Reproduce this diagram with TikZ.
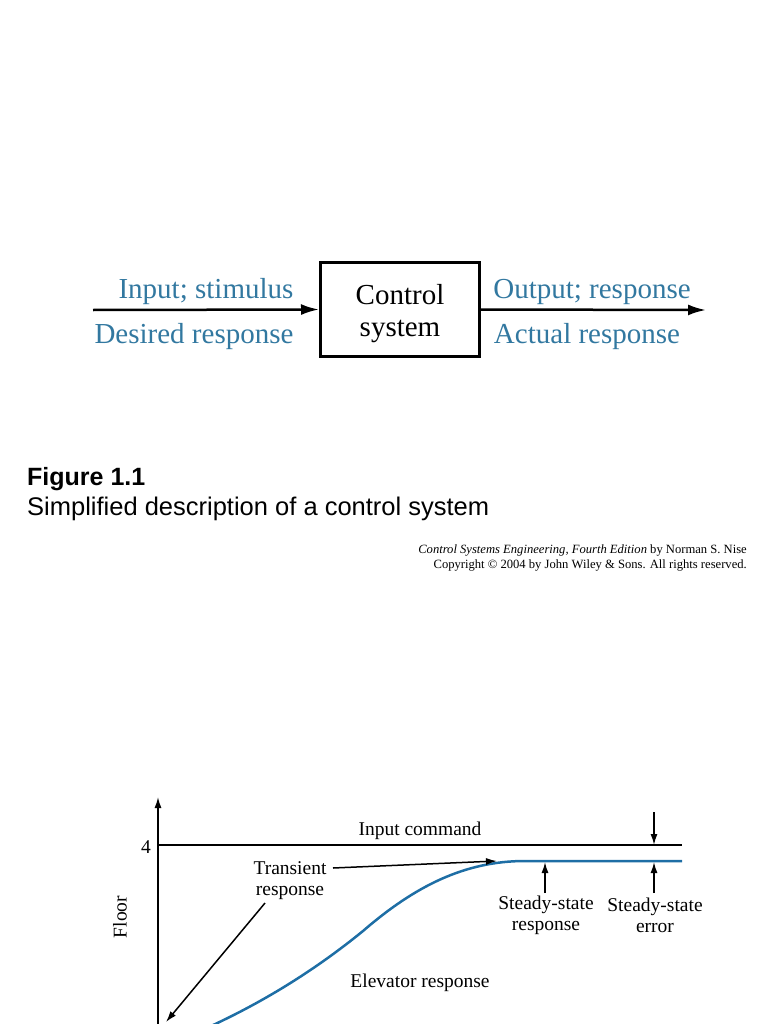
\documentclass[tikz,border=0pt]{standalone}
\usepackage{fontspec}
\setmainfont{Liberation Serif}
\newfontfamily\arialfont{Liberation Sans}
\usetikzlibrary{arrows.meta}
\definecolor{txtblue}{RGB}{50,120,160}
\definecolor{curveblue}{RGB}{30,110,165}
\tikzset{
  biglbl/.style={font=\fontsize{29}{32}\selectfont, inner sep=0pt},
  bluelbl/.style={biglbl, text=txtblue},
  sysbox/.style={draw, line width=3pt, minimum width=159pt, minimum height=94pt, inner sep=0pt},
  bigarrow/.style={line width=2.5pt, -{Latex[length=18pt,width=11pt]}},
  smalllbl/.style={font=\fontsize{19.5}{21}\selectfont, inner sep=0pt, align=center},
  thinline/.style={line width=1.5pt},
  smallarrow/.style={line width=1.5pt, -{Latex[length=11pt,width=7pt]}},
}
\begin{document}
\begin{tikzpicture}[x=1pt,y=-1pt]
\useasboundingbox (0,0) rectangle (768,1024);

% ---- Figure 1.1 block diagram ----
\node[sysbox] (sys) at (400,309.5) {};
\node[biglbl, align=center] (systxt) at (400,313.5) {Control\\system};
\coordinate (inS) at (93,310);
\coordinate (outE) at (706,310);
\draw[bigarrow] (inS) -- (sys.west);
\draw[bigarrow] (sys.east) -- (outE);
\node[bluelbl] (inlbl) at (206,291.5) {Input; stimulus};
\node[bluelbl] (deslbl) at (194,336.5) {Desired response};
\node[bluelbl] (outlbl) at (592,291.5) {Output; response};
\node[bluelbl] (actlbl) at (587,336.5) {Actual response};

% ---- caption ----
\node[anchor=base west, inner sep=0pt, font=\arialfont\bfseries\fontsize{25}{30}\selectfont] (fig) at (27,485) {Figure 1.1};
\node[anchor=base west, inner sep=0pt, font=\arialfont\fontsize{25.5}{30}\selectfont] (cap) at (27,515) {Simplified description of a control system};
\node[anchor=base east, inner sep=0pt, font=\fontsize{12.6}{14}\selectfont] (cr1) at (747,553) {\textit{Control Systems Engineering, Fourth Edition} by Norman S. Nise};
\node[anchor=base east, inner sep=0pt, font=\fontsize{12.6}{14}\selectfont] (cr2) at (747,568) {Copyright \textcopyright{} 2004 by John Wiley \& Sons. All rights reserved.};

% ---- Elevator response plot ----
\coordinate (ax0) at (158,1030);
\coordinate (axtop) at (158,797);
\draw[smallarrow] (ax0) -- (axtop);
\coordinate (cmd0) at (158,845);
\coordinate (cmd1) at (682,845);
\draw[thinline] (cmd0) -- (cmd1);
\node[smalllbl, anchor=east] (four) at (151,847) {4};
\node[smalllbl, rotate=90] (floor) at (120,917) {Floor};
\node[smalllbl] (cmdlbl) at (420,831) {Input command};

\coordinate (c0) at (200,1031);
\coordinate (c1) at (363,931);
\coordinate (c2) at (525,861);
\coordinate (c3) at (682,861);
\draw[curveblue, line width=2.5pt] (c0) .. controls (254,1007) and (309,975) .. (c1)
  .. controls (415,886) and (465,861) .. (c2) -- (c3);

\node[smalllbl] (trans) at (290,881) {Transient\\response};
\coordinate (tA) at (333,868);
\coordinate (tB) at (497,861);
\draw[smallarrow] (tA) -- (tB);
\coordinate (tC) at (265,903);
\coordinate (tD) at (166,1022);
\draw[smallarrow] (tC) -- (tD);

\node[smalllbl] (elev) at (420,983) {Elevator response};

\node[smalllbl] (ssr) at (546,915) {Steady-state\\response};
\node[smalllbl] (sse) at (655,915) {Steady-state\\error};
\coordinate (ssrT) at (545,862);
\coordinate (ssrB) at (545,893);
\draw[smallarrow] (ssrB) -- (ssrT);
\coordinate (sseA) at (654,812);
\coordinate (sseB) at (654,845);
\draw[smallarrow] (sseA) -- (sseB);
\coordinate (sseC) at (654,893);
\coordinate (sseD) at (654,862);
\draw[smallarrow] (sseC) -- (sseD);
\end{tikzpicture}
\end{document}
